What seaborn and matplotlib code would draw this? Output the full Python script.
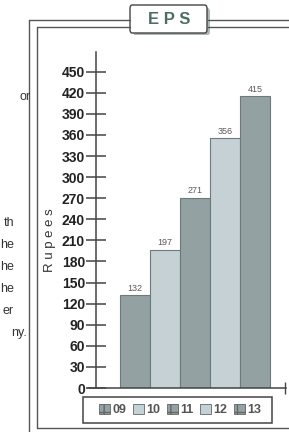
import matplotlib.pyplot as plt
import seaborn as sns
import pandas as pd
from matplotlib.patches import Patch, Rectangle, FancyBboxPatch
from matplotlib.lines import Line2D

years = ["09", "10", "11", "12", "13"]
eps = [132, 197, 271, 356, 415]
y_ticks = list(range(0, 451, 30))
side_words = ["or", "th", "he", "he", "he", "er", "ny."]

dark = "#91a3a4"
light = "#c2d2d6"
colors = [dark, light, dark, light, dark]

sns.set_style("white")
plt.rcParams["font.family"] = ["Liberation Sans", "DejaVu Sans"]
plt.rcParams["hatch.color"] = "#6a7a7a"

W, H = 289, 432
fig = plt.figure(figsize=(W / 100, H / 100), dpi=100)


def fx(px):
    return px / W


def fy(py):
    return 1 - py / H


ax = fig.add_axes([fx(88), fy(388), fx(286) - fx(88), fy(52) - fy(388)])
df = pd.DataFrame({"year": years, "eps": eps})
sns.barplot(data=df, x="year", y="eps", hue="year", palette=colors, dodge=False,
            width=1.0, edgecolor="#6b7a7a", linewidth=0.8, legend=False, ax=ax)

ax.set_xlim(-1.567, 5.033)
ax.set_ylim(0, 478)
for c in ax.containers:
    ax.bar_label(c, fontsize=6.5, color="#5a5a5a", padding=1.5)

for s in ["top", "right"]:
    ax.spines[s].set_visible(False)
ax.spines["left"].set_position(("data", -1.3))
ax.spines["left"].set_color("#444444")
ax.spines["bottom"].set_color("#444444")
ax.spines["left"].set_linewidth(1.1)
ax.spines["bottom"].set_linewidth(1.1)

ax.set_yticks(y_ticks)
ax.set_yticklabels([str(v) for v in y_ticks], fontweight="bold", fontsize=10, color="#222222")
ax.tick_params(axis="y", direction="inout", length=14, width=1.1, color="#444444", pad=1, left=True)
ax.set_xticks([5.0])
ax.set_xticklabels([""])
ax.tick_params(axis="x", direction="inout", length=9, width=1.0, color="#444444", bottom=True)
ax.set_xlabel("")
ax.set_ylabel("")

fig.text(fx(50), fy(240), "R u p e e s", rotation=90, ha="center", va="center",
         fontsize=9.5, color="#333333")

# double frame
fc = "#555555"
frame = [
    ([29, 29], [20, 432]), ([29, 130], [20, 20]), ([208, 289], [20, 20]),
    ([37, 37], [27, 428]), ([37, 130], [27, 27]), ([208, 289], [27, 27]),
    ([37, 289], [428, 428]),
]
for xs, ys in frame:
    fig.add_artist(Line2D([fx(v) for v in xs], [fy(v) for v in ys], color=fc, lw=1.0))

# title box
fig.add_artist(FancyBboxPatch((fx(133), fy(35)), fx(210) - fx(133), fy(8) - fy(35),
                              boxstyle="round,pad=0,rounding_size=0.008",
                              facecolor="#7a8a8a", edgecolor="none", alpha=0.6))
fig.add_artist(FancyBboxPatch((fx(130), fy(33)), fx(207) - fx(130), fy(5) - fy(33),
                              boxstyle="round,pad=0,rounding_size=0.008",
                              facecolor="white", edgecolor="#444444", lw=1.0))
fig.text(fx(169), fy(19.5), "E P S", ha="center", va="center", fontsize=12,
         fontweight="bold", color="#4b6d66")

# legend box
fig.add_artist(Rectangle((fx(83), fy(423)), fx(272) - fx(83), fy(397) - fy(423),
                         facecolor="white", edgecolor="#444444", lw=1.1))
handles = [Patch(facecolor=c, edgecolor="#666666", hatch="++" if c == dark else None, lw=0.6)
           for c in colors]
leg = fig.legend(handles, years, loc="center", bbox_to_anchor=(fx(180), fy(410)), ncol=5,
                 frameon=False, handlelength=0.9, handleheight=0.9, handletextpad=0.2,
                 columnspacing=0.5, prop={"weight": "bold", "size": 9})
for t in leg.get_texts():
    t.set_color("#555555")

# cropped body text on the left
side_y = [97, 223, 245, 267, 289, 311, 333]
side_x = [31, 14, 14, 14, 14, 14, 27]
for w, xr, yy in zip(side_words, side_x, side_y):
    fig.text(fx(xr), fy(yy), w, ha="right", va="center", fontsize=9, color="#333333")

fig.savefig("out.png", dpi=100)
